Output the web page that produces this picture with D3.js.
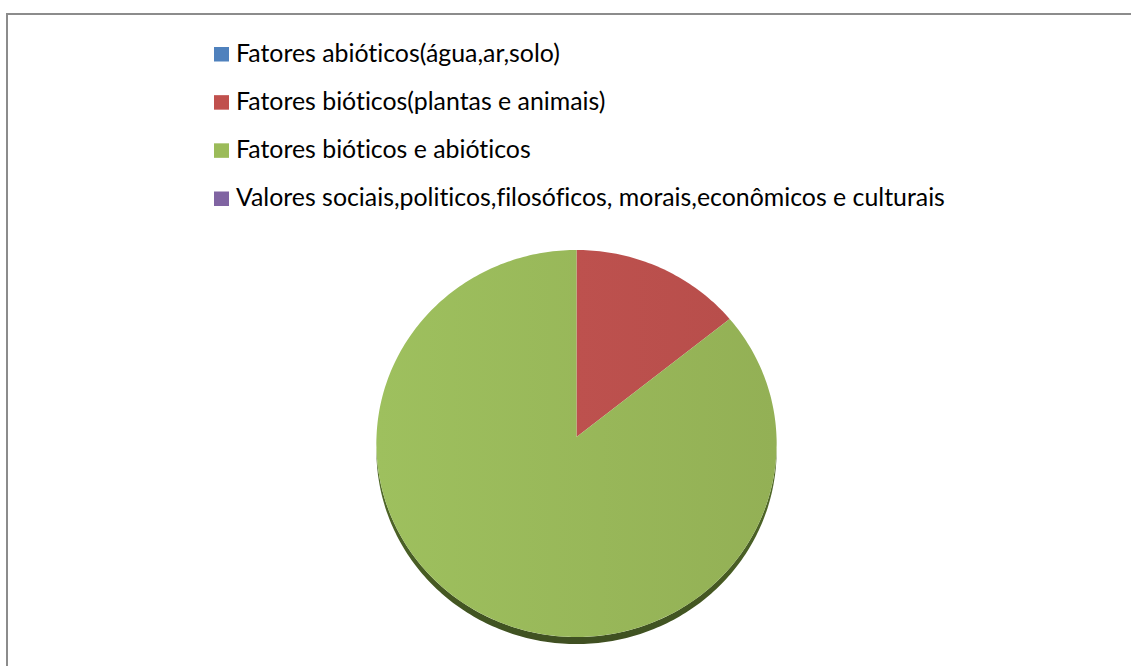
<!DOCTYPE html>
<html>
<head>
<meta charset="utf-8">
<script src="https://cdn.jsdelivr.net/npm/d3@7"></script>
<style>
  html, body { margin: 0; padding: 0; background: #fff; }
  svg { display: block; }
  .legend text { font-variant-ligatures: none; font-feature-settings: "liga" 0, "clig" 0; }
</style>
</head>
<body>
<svg id="chart" width="1131" height="666"></svg>
<script>
// Categories and their counts
const categories = [
  "Fatores abióticos(água,ar,solo)",
  "Fatores bióticos(plantas e animais)",
  "Fatores bióticos e abióticos",
  "Valores sociais,politicos,filosóficos, morais,econômicos e culturais"
];
const values = [0, 1, 6, 0];

const W = 1131, H = 666;
const svg = d3.select("#chart");

const color = d3.scaleOrdinal()
  .domain(categories)
  .range(["#4f81bd", "#c0504d", "#9bbb59", "#8064a2"]);
const topFill = d3.scaleOrdinal()
  .domain(categories)
  .range(["url(#gBlue)", "url(#gRed)", "url(#gGreen)", "url(#gPurple)"]);

// gradients
const defs = svg.append("defs");
function hGrad(id, c0, c1) {
  const g = defs.append("linearGradient").attr("id", id)
    .attr("x1", "0%").attr("y1", "0%").attr("x2", "100%").attr("y2", "0%");
  g.append("stop").attr("offset", "0%").attr("stop-color", c0);
  g.append("stop").attr("offset", "100%").attr("stop-color", c1);
}
hGrad("gGreen", "#9ec05e", "#93b055");
hGrad("gRed", "#bd514e", "#b84e4b");
hGrad("gBlue", "#5083bf", "#4a7ab3");
hGrad("gPurple", "#8266a4", "#795f9a");
const sideG = defs.append("linearGradient").attr("id", "gSide")
  .attr("x1", "0%").attr("y1", "0%").attr("x2", "0%").attr("y2", "100%");
sideG.append("stop").attr("offset", "0%").attr("stop-color", "#56702c");
sideG.append("stop").attr("offset", "100%").attr("stop-color", "#3f5020");
defs.append("filter").attr("id", "soft")
  .append("feGaussianBlur").attr("stdDeviation", 0.7);

// chart frame
svg.append("rect")
  .attr("x", 7).attr("y", 14)
  .attr("width", W + 20).attr("height", H + 20)
  .attr("fill", "none")
  .attr("stroke", "#8c8c8c")
  .attr("stroke-width", 2);

// legend
const legend = svg.append("g").attr("class", "legend");
const rowY = d3.scalePoint().domain(categories).range([61.5, 206]);
const rows = legend.selectAll("g").data(categories).join("g")
  .attr("transform", d => `translate(0,${rowY(d)})`);
rows.append("rect")
  .attr("x", 214).attr("y", -14.5)
  .attr("width", 15).attr("height", 14.5)
  .attr("fill", d => color(d));
const labels = rows.append("text")
  .attr("x", 236).attr("y", 0)
  .attr("font-family", "Lato, 'Open Sans', sans-serif")
  .attr("font-size", 20)
  .attr("fill", "#000")
  .text(d => d);
// size the legend font so the longest label spans its available width
let longest = 0;
labels.each(function () { longest = Math.max(longest, this.getComputedTextLength()); });
labels.attr("font-size", 20 * 709 / longest);

// 3D-tilted pie: circle in plane, projected with mild perspective
const cx = 576.5, cy = 437;
const R = 200;          // horizontal radius
const RK = 193.3;       // vertical scale of the tilted disk
const persp = 0.0336;   // perspective strength
const depth = 7;

function project(theta, r = 1, dy = 0) {
  const u = Math.sin(theta) * r, v = Math.cos(theta) * r;
  const s = 1 / (1 + persp * v);
  return [cx + R * u * s, cy - RK * v * s + dy];
}
function arcPoints(a0, a1, dy = 0) {
  const n = Math.max(2, Math.ceil((a1 - a0) / (Math.PI / 180)));
  return d3.range(n + 1).map(i => project(a0 + (a1 - a0) * i / n, 1, dy));
}

const pie = d3.pie().sort(null).value(d => d.value);
const arcs = pie(categories.map((c, i) => ({ name: c, value: values[i] })))
  .filter(a => a.value > 0);

const line = d3.line();

// front rim of the pie
const pieG = svg.append("g");
const rimPts = arcPoints(Math.PI / 2, 3 * Math.PI / 2, 0)
  .concat(arcPoints(Math.PI / 2, 3 * Math.PI / 2, depth).reverse());
pieG.append("path")
  .attr("d", line(rimPts) + "Z")
  .attr("fill", "url(#gSide)")
  .attr("filter", "url(#soft)");

// top faces
pieG.selectAll("path.slice").data(arcs).join("path")
  .attr("class", "slice")
  .attr("d", a => line([[cx, cy]].concat(arcPoints(a.startAngle, a.endAngle))) + "Z")
  .attr("fill", a => topFill(a.data.name));
</script>
</body>
</html>
